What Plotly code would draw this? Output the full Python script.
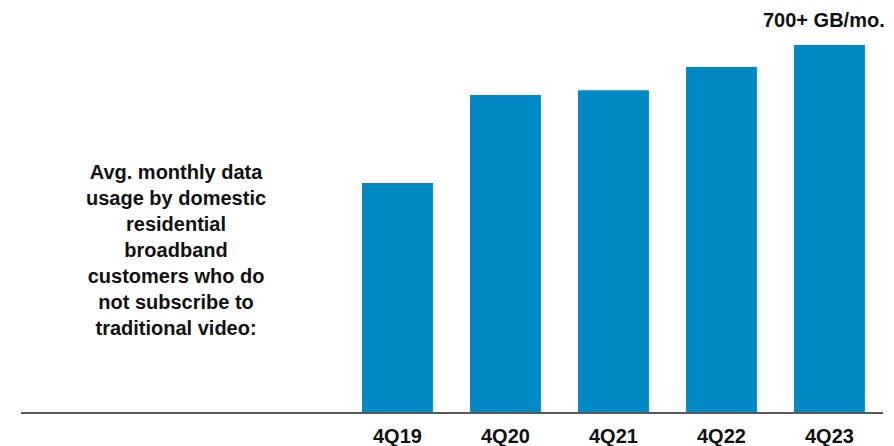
import plotly.graph_objects as go

categories = ["4Q19", "4Q20", "4Q21", "4Q22", "4Q23"]
usage_gb = [437, 605, 614, 658, 700]
top_label = "700+ GB/mo."
side_lines = ["Avg. monthly data", "usage by domestic", "residential", "broadband",
              "customers who do", "not subscribe to", "traditional video:"]

FONT = "Arial, 'Liberation Sans', sans-serif"
BAR = "#0089C4"
TXT = "#111111"

fig = go.Figure(go.Bar(x=categories, y=usage_gb, marker=dict(color=BAR, line=dict(width=0)),
                       width=0.657))

fig.add_annotation(x=categories[-1], y=usage_gb[-1], xref="x", yref="y", text=top_label,
                   showarrow=False, yanchor="bottom", yshift=12, xshift=-5,
                   font=dict(family=FONT, size=20, color=TXT, weight="bold"))

fig.add_annotation(x=(176 - 21) / 862, y=(412 - 250) / 412, xref="paper", yref="paper",
                   text="<br>".join(side_lines),
                   showarrow=False, align="center", xanchor="center", yanchor="middle",
                   font=dict(family=FONT, size=20, color=TXT, weight="bold"))

fig.update_layout(
    width=894, height=446, margin=dict(l=21, r=11, t=0, b=34),
    paper_bgcolor="white", plot_bgcolor="white", showlegend=False,
    font=dict(family=FONT, size=20, color=TXT),
    xaxis=dict(type="category", range=[-3.486, 4.496], showline=True, linecolor="#595959",
               linewidth=2, ticks="", showgrid=False, zeroline=False, ticklabelstandoff=5,
               automargin=False,
               tickfont=dict(family=FONT, size=20, color=TXT, weight="bold")),
    yaxis=dict(range=[0, 786], visible=False, showgrid=False, zeroline=False, automargin=False),
)
fig.write_html("out.html")
